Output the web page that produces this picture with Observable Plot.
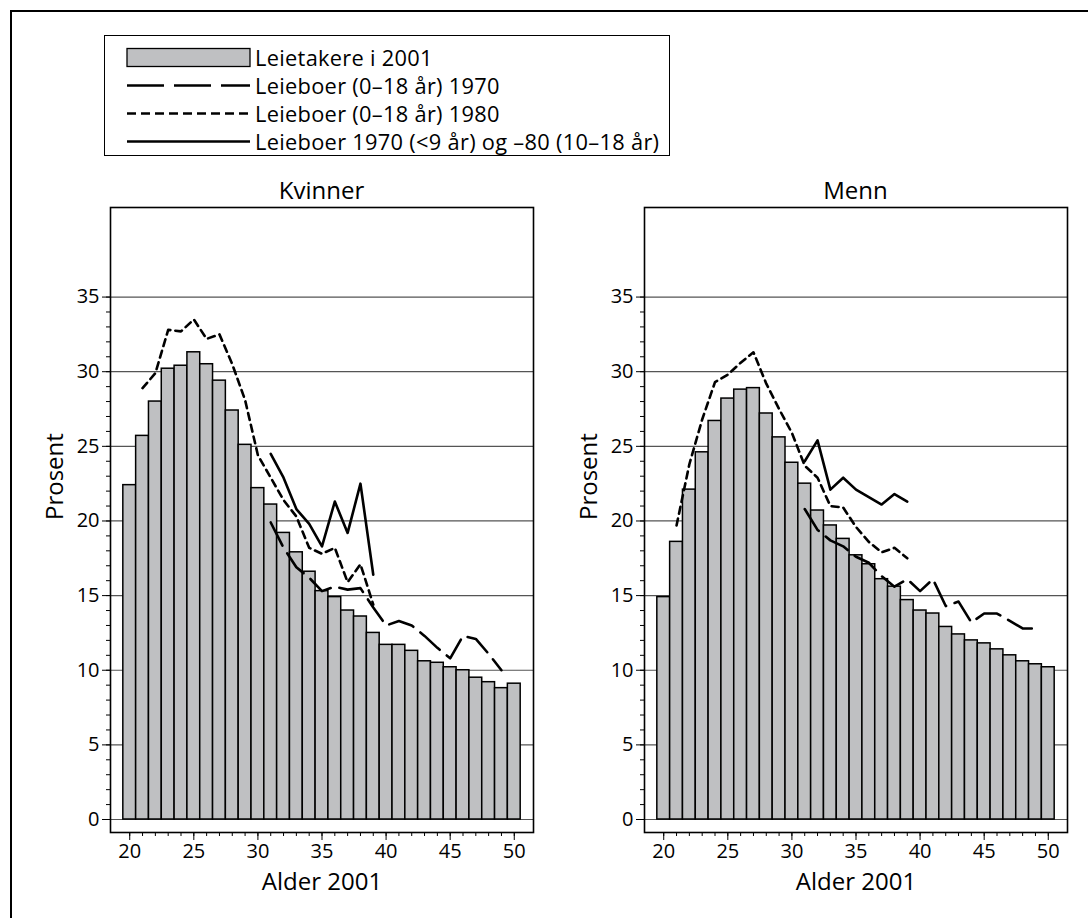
<!DOCTYPE html>
<html>
<head>
<meta charset="utf-8">
<script src="https://cdn.jsdelivr.net/npm/d3@7"></script>
<script src="https://cdn.jsdelivr.net/npm/@observablehq/plot@0.6"></script>
<style>
  html, body { margin: 0; padding: 0; background: #fff; overflow: hidden; }
  #root { position: relative; width: 1088px; height: 918px; overflow: hidden; font-family: "Open Sans", sans-serif; color: #000; }
  .outer { position: absolute; left: 10px; top: 10px; width: 1200px; height: 1000px; border: 2px solid #000; box-sizing: border-box; }
  .legend { position: absolute; left: 104px; top: 35px; width: 566px; height: 121px; border: 1.3px solid #000; box-sizing: border-box; background: #fff; }
  .legend .row { position: absolute; left: 150px; height: 26px; line-height: 26px; font-size: 21.8px; letter-spacing: 0.3px; white-space: nowrap; }
  .title { position: absolute; top: 174px; width: 300px; text-align: center; font-size: 24px; line-height: 32px; }
  .panel { position: absolute; top: 180px; }
</style>
</head>
<body>
<div id="root">
  <div class="outer"></div>
  <div class="legend" id="legend"></div>
  <div class="title" style="left:171.5px">Kvinner</div>
  <div class="title" style="left:705.5px">Menn</div>
  <div class="panel" id="left" style="left:0px"></div>
  <div class="panel" id="right" style="left:534px"></div>
</div>
<script>
// ---- Data ----
const ages = [20,21,22,23,24,25,26,27,28,29,30,31,32,33,34,35,36,37,38,39,40,41,42,43,44,45,46,47,48,49,50];
const kvinner2001 = [22.4,25.7,28.0,30.2,30.4,31.3,30.5,29.4,27.4,25.1,22.2,21.1,19.2,17.9,16.6,15.3,14.9,14.0,13.6,12.5,11.7,11.7,11.3,10.6,10.5,10.2,10.0,9.5,9.2,8.8,9.1];
const menn2001    = [14.9,18.6,22.1,24.6,26.7,28.2,28.8,28.9,27.2,25.6,23.9,22.5,20.7,19.7,18.8,17.7,17.1,16.1,15.6,14.7,14.0,13.8,12.9,12.4,12.0,11.8,11.4,11.0,10.6,10.4,10.2];

const ages1970 = [31,32,33,34,35,36,37,38,39,40,41,42,43,44,45,46,47,48,49];
const kvinner1970 = [19.9,18.2,16.9,16.2,15.3,15.6,15.4,15.5,14.2,13.0,13.3,13.0,12.3,11.5,10.8,12.3,12.1,11.1,10.0];
const menn1970    = [20.8,19.4,18.7,18.3,17.6,17.2,16.3,15.6,16.1,15.3,16.1,14.3,14.6,13.2,13.8,13.8,13.3,12.8,12.8];

const ages1980 = [21,22,23,24,25,26,27,28,29,30,31,32,33,34,35,36,37,38,39];
const kvinner1980 = [28.9,29.9,32.8,32.7,33.5,32.2,32.5,30.5,28.1,24.4,22.9,21.4,20.3,18.2,17.8,18.2,15.9,17.1,14.4];
const menn1980    = [19.7,23.8,26.8,29.3,29.8,30.6,31.3,29.2,27.5,25.9,23.7,22.9,21.0,20.9,19.6,18.6,17.9,18.2,17.5];

const agesMix = [31,32,33,34,35,36,37,38,39];
const kvinnerMix = [24.5,22.9,20.8,19.8,18.3,21.3,19.2,22.5,16.4];
const mennMix    = [24.0,25.4,22.1,22.9,22.1,21.6,21.1,21.8,21.3];

const yMajor = [0,5,10,15,20,25,30,35];
const yMinor = [0,1,2,3,4,5,6,7,8,9,10,11,12,13,14,15,16,17,18,19,20,21,22,23,24,25,26,27,28,29,30,31,32,33,34,35];
const xMajor = [20,25,30,35,40,45,50];
const xMinor = ages;

const legendLabels = ["Leietakere i 2001","Leieboer (0–18 år) 1970","Leieboer (0–18 år) 1980","Leieboer 1970 (<9 år) og –80 (10–18 år)"];
const yLabel = "Prosent";
const xLabel = "Alder 2001";

// ---- Styles ----
const barFill = "#bfc0c2";
const dashLong = "26,9";
const dashShort = "7,5";
const lw = 2.6;

const zip = (xs, vs) => xs.map((a, i) => ({age: a, v: vs[i]}));

function panel(bars, l1970, l1980, lmix) {
  return Plot.plot({
    width: 544, height: 720,
    marginLeft: 110, marginRight: 11, marginTop: 27, marginBottom: 68,
    style: {fontFamily: "'Open Sans', sans-serif", fontSize: "20px", color: "#000", background: "transparent", overflow: "visible"},
    x: {domain: [18.5, 51.5], axis: null},
    y: {domain: [-0.87, 41], axis: null},
    marks: [
      Plot.ruleY(yMajor, {stroke: "#555", strokeWidth: 1.2}),
      Plot.rectY(bars, {x1: d => d.age - 0.5, x2: d => d.age + 0.5, y: "v", fill: barFill, stroke: "#000", strokeWidth: 1.5}),
      Plot.line(l1970, {x: "age", y: "v", stroke: "#000", strokeWidth: lw, strokeDasharray: dashLong}),
      Plot.line(l1980, {x: "age", y: "v", stroke: "#000", strokeWidth: lw, strokeDasharray: dashShort}),
      Plot.line(lmix, {x: "age", y: "v", stroke: "#000", strokeWidth: lw}),
      Plot.frame({stroke: "#000", strokeWidth: 1.6}),
      Plot.axisY(yMinor, {anchor: "left", tickSize: 4, tickFormat: () => "", label: null}),
      Plot.axisY(yMajor, {anchor: "left", tickSize: 8, tickPadding: 3, label: null}),
      Plot.axisX(xMinor, {anchor: "bottom", tickSize: 4, tickFormat: () => "", label: null}),
      Plot.axisX(xMajor, {anchor: "bottom", tickSize: 8, tickPadding: 3, label: null}),
      Plot.text([yLabel], {frameAnchor: "left", dx: -55, rotate: -90, fontSize: 24}),
      Plot.text([xLabel], {frameAnchor: "bottom", dy: 57, fontSize: 24})
    ]
  });
}

document.getElementById("left").append(panel(zip(ages, kvinner2001), zip(ages1970, kvinner1970), zip(ages1980, kvinner1980), zip(agesMix, kvinnerMix)));
document.getElementById("right").append(panel(zip(ages, menn2001), zip(ages1970, menn1970), zip(ages1980, menn1980), zip(agesMix, mennMix)));

// ---- Legend ----
const legendEl = document.getElementById("legend");
const ns = "http://www.w3.org/2000/svg";
const lg = document.createElementNS(ns, "svg");
lg.setAttribute("width", 150); lg.setAttribute("height", 119);
lg.style.position = "absolute"; lg.style.left = "0"; lg.style.top = "0";
const rowsY = [21.5, 49.5, 77.5, 105.5];
const kinds = ["rect", "long", "short", "solid"];
kinds.forEach((k, i) => {
  const cy = rowsY[i];
  if (k === "rect") {
    const r = document.createElementNS(ns, "rect");
    r.setAttribute("x", 22); r.setAttribute("y", cy - 9); r.setAttribute("width", 123); r.setAttribute("height", 18);
    r.setAttribute("fill", barFill); r.setAttribute("stroke", "#000"); r.setAttribute("stroke-width", 1.3);
    lg.append(r);
  } else {
    const l = document.createElementNS(ns, "line");
    l.setAttribute("x1", 22); l.setAttribute("x2", 145); l.setAttribute("y1", cy); l.setAttribute("y2", cy);
    l.setAttribute("stroke", "#000"); l.setAttribute("stroke-width", lw);
    if (k === "long") l.setAttribute("stroke-dasharray", "37,10");
    if (k === "short") l.setAttribute("stroke-dasharray", "9,5");
    lg.append(l);
  }
  const row = document.createElement("div");
  row.className = "row";
  row.style.top = (cy - 13) + "px";
  row.textContent = legendLabels[i];
  legendEl.append(row);
});
legendEl.append(lg);
</script>
</body>
</html>
